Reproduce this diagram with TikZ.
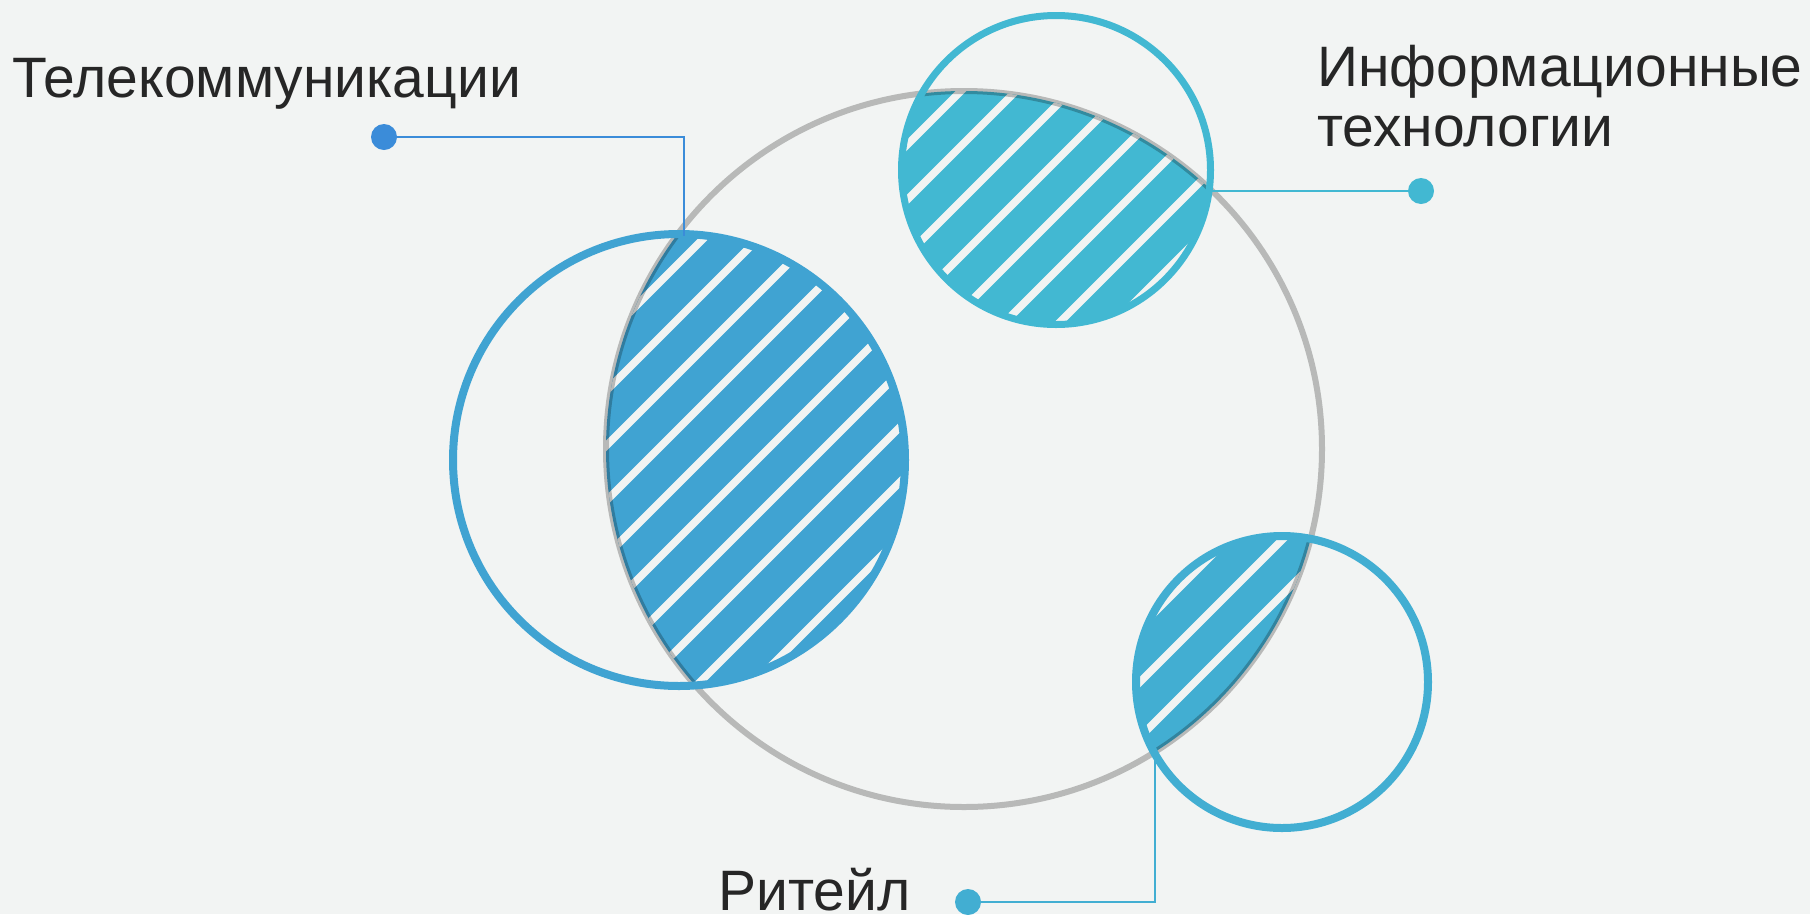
\documentclass[tikz,border=0pt]{standalone}
\usepackage{fontspec}
\setmainfont{Liberation Sans}
\definecolor{bgc}{HTML}{F2F4F3}
\definecolor{greyc}{HTML}{C2C2C2}
\definecolor{telc}{HTML}{40A3D2}
\definecolor{itc}{HTML}{42B8D2}
\definecolor{retc}{HTML}{42AED2}
\definecolor{telline}{HTML}{3B8CD9}
\definecolor{txtc}{HTML}{262626}
\tikzset{
  lbl/.style={anchor=base west, inner sep=0pt, text=txtc, font=\fontsize{57}{60}\selectfont},
  ring/.style={line width=8pt},
  dotn/.style={circle, inner sep=0pt, minimum size=26pt},
  conn/.style={line width=2.5pt},
  gap/.style={draw=bgc, line width=7.5pt},
}
\begin{document}
\begin{tikzpicture}[x=1pt,y=-1pt]
\fill[bgc] (0,0) rectangle (1810,914);
\useasboundingbox (0,0) rectangle (1810,914);
% hatched intersections
\begin{scope}
  \clip (964,449) circle (358);
  \clip (679,460) circle (226);
  \fill[telc] (400,200) rectangle (1000,700);
  \foreach \k in {14,...,30} {
    \pgfmathsetmacro\c{7+55*\k}
    \draw[gap] ({400},{\c-400}) -- ({1000},{\c-1000});
  }
\end{scope}
\begin{scope}
  \clip (964,449) circle (358);
  \clip (1056,170) circle (154.5);
  \fill[itc] (880,0) rectangle (1230,340);
  \foreach \k in {16,...,30} {
    \pgfmathsetmacro\c{7+55*\k}
    \draw[gap] ({850},{\c-850}) -- ({1250},{\c-1250});
  }
\end{scope}
\begin{scope}
  \clip (964,449) circle (358);
  \clip (1282,682) circle (146);
  \fill[retc] (1120,520) rectangle (1440,840);
  \foreach \k in {28,...,40} {
    \pgfmathsetmacro\c{7+55*\k}
    \draw[gap] ({1100},{\c-1100}) -- ({1450},{\c-1450});
  }
\end{scope}
% big grey circle
\draw[greyc, line width=6pt, blend mode=multiply] (964,449) circle (358);
% small circles
\node[draw=telc, ring, circle, minimum size=452pt, inner sep=0pt] (tel) at (679,460) {};
\node[draw=itc, ring, line width=7pt, circle, minimum size=309pt, inner sep=0pt] (it) at (1056,170) {};
\node[draw=retc, ring, circle, minimum size=292pt, inner sep=0pt] (ret) at (1282,682) {};
% labels
\node[lbl] (tlab) at (12,97) {Телекоммуникации};
\node[lbl] (ilab1) at (1317,86) {Информационные};
\node[lbl] (ilab2) at (1317,146) {технологии};
\node[lbl] (rlab) at (718,910) {Ритейл};
% connectors
\coordinate (tc) at (684,236);
\coordinate (ic) at (1212,191);
\coordinate (rc) at (1155,747);
\node[dotn, fill=telline] (d1) at (384,137) {};
\node[dotn, fill=itc] (d2) at (1421,191) {};
\node[dotn, fill=retc] (d3) at (968,902) {};
\draw[conn, telline] (d1.center) -| (tc);
\draw[conn, itc] (d2.center) -- (ic);
\draw[conn, retc] (d3.center) -| (rc);
\end{tikzpicture}
\end{document}
